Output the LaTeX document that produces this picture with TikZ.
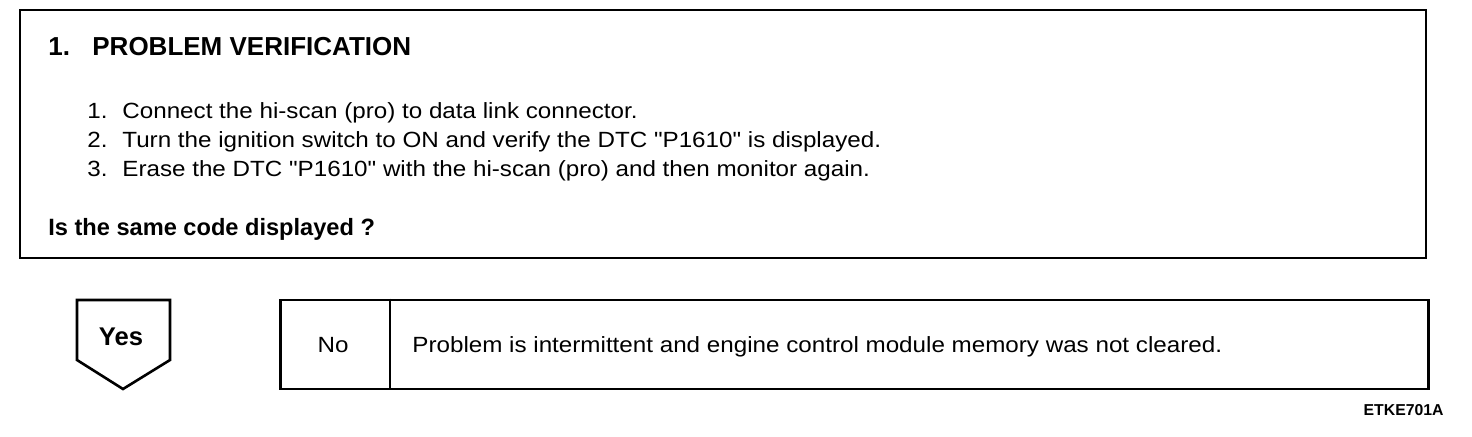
\documentclass[tikz,border=0pt]{standalone}
\usepackage{fontspec}
\setmainfont{Liberation Sans}
\newfontfamily\widefont{Liberation Sans}[FakeStretch=1.10]
\usetikzlibrary{positioning}

\begin{document}
\begin{tikzpicture}[
  x=0.5pt, y=-0.5pt,
  frame/.style={draw, line width=1.3pt},
  txt/.style={anchor=base west, inner sep=0pt, font=\widefont\fontsize{11}{13}\selectfont},
  btxt/.style={anchor=base west, inner sep=0pt, font=\fontsize{11.8}{14}\selectfont\bfseries}
]
\useasboundingbox (0,0) rectangle (1472,436);

% problem verification box
\node[frame, minimum width=703pt, minimum height=124pt, inner sep=0pt] (verify) at (723,134) {};
\node[btxt, font=\fontsize{13}{15}\selectfont\bfseries] (headnum) at (48,55) {1.};
\node[btxt, font=\fontsize{13}{15}\selectfont\bfseries] (head) at (92,55) {PROBLEM VERIFICATION};
\foreach \i/\t in {1/Connect the hi-scan (pro) to data link connector.,
                   2/Turn the ignition switch to ON and verify the DTC "P1610" is displayed.,
                   3/Erase the DTC "P1610" with the hi-scan (pro) and then monitor again.} {
  \node[txt] (n\i) at (87, 89+\i*29) {\i.};
  \node[txt] (s\i) at (122, 89+\i*29) {\t};
}
\node[btxt] (ask) at (48,235) {Is the same code displayed ?};

% yes branch
\draw[frame] (77,300) -- (170,300) -- (170,360) -- (123,389) -- (77,360) -- cycle;
\node[btxt, anchor=base, font=\fontsize{12.8}{15}\selectfont\bfseries] (yes) at (121,345) {Yes};

% no branch
\node[frame, minimum width=574pt, minimum height=44.5pt, inner sep=0pt] (nobox) at (854.5,344.5) {};
\draw[line width=1pt] (nobox.north west) ++(111,0) coordinate (divtop) -- (divtop |- nobox.south);
\node[txt, anchor=base] (no) at (333,352) {No};
\node[txt] (cause) at (412,352) {Problem is intermittent and engine control module memory was not cleared.};

\node[btxt, anchor=base east, font=\fontsize{7.9}{9}\selectfont\bfseries] (code) at (1444,415) {ETKE701A};
\end{tikzpicture}
\end{document}
